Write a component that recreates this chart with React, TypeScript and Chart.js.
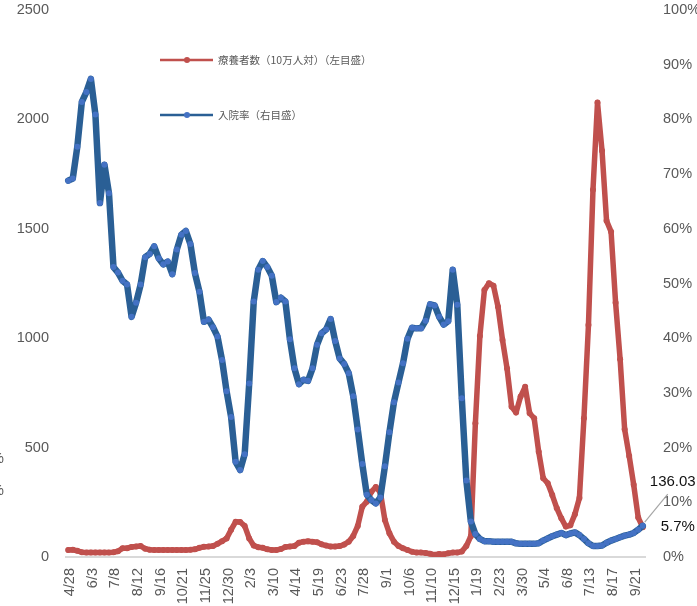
import React, { useEffect, useRef } from 'react';
import { Chart, registerables } from 'chart.js';

Chart.register(...registerables);

// Weekly dates (2020/4/28 – 2022/10/5)
const dates: string[] = [
  '4/28','5/6','5/13','5/20','5/27',
  '6/3','6/10','6/17','6/24','7/1',
  '7/8','7/15','7/22','7/29','8/5',
  '8/12','8/19','8/26','9/2','9/9',
  '9/16','9/23','9/30','10/7','10/14',
  '10/21','10/28','11/4','11/11','11/18',
  '11/25','12/2','12/9','12/16','12/23',
  '12/30','1/6','1/13','1/20','1/27',
  '2/3','2/10','2/17','2/24','3/3',
  '3/10','3/17','3/24','3/31','4/7',
  '4/14','4/21','4/28','5/5','5/12',
  '5/19','5/26','6/2','6/9','6/16',
  '6/23','6/30','7/7','7/14','7/21',
  '7/28','8/4','8/11','8/18','8/25',
  '9/1','9/8','9/15','9/22','9/29',
  '10/6','10/13','10/20','10/27','11/3',
  '11/10','11/17','11/24','12/1','12/8',
  '12/15','12/22','12/29','1/5','1/12',
  '1/19','1/26','2/2','2/9','2/16',
  '2/23','3/2','3/9','3/16','3/23',
  '3/30','4/6','4/13','4/20','4/27',
  '5/4','5/11','5/18','5/25','6/1',
  '6/8','6/15','6/22','6/29','7/6',
  '7/13','7/20','7/27','8/3','8/10',
  '8/17','8/24','8/31','9/7','9/14',
  '9/21','9/28','10/5',
];

// 療養者数（10万人対） – left axis
const ryoyoValues: number[] = [
  32, 33, 28, 22, 20, 20, 20, 20, 20, 20,
  22, 26, 40, 40, 46, 48, 50, 38, 33, 32,
  32, 32, 32, 32, 32, 32, 32, 33, 35, 42,
  47, 48, 50, 60, 72, 85, 125, 161, 160, 142,
  85, 52, 45, 42, 35, 32, 32, 36, 46, 48,
  50, 65, 70, 72, 70, 67, 58, 52, 48, 48,
  50, 57, 70, 96, 142, 230, 253, 298, 320, 295,
  169, 108, 70, 50, 40, 32, 24, 20, 20, 18,
  15, 10, 14, 12, 17, 20, 20, 25, 50, 95,
  611, 1010, 1220, 1251, 1240, 1144, 992, 862, 687, 660,
  733, 778, 657, 634, 481, 360, 337, 283, 223, 177,
  139, 145, 195, 270, 634, 1060, 1678, 2077, 1857, 1537,
  1487, 1162, 904, 584, 462, 330, 180, 136.03,
];

// 入院率 (%) – right axis
const nyuinRate: number[] = [
  68.8, 69.2, 75.0, 83.2, 85.0, 87.4, 80.9, 64.7, 71.7, 66.5,
  53.0, 52.0, 50.5, 49.8, 43.9, 46.5, 49.8, 54.8, 55.4, 56.8,
  54.6, 53.5, 54.0, 51.7, 56.2, 58.9, 59.6, 57.2, 51.9, 48.5,
  43.0, 43.4, 42.0, 40.3, 36.0, 30.3, 25.6, 17.4, 15.9, 18.8,
  31.7, 46.7, 52.5, 54.1, 53.0, 51.4, 46.6, 47.4, 46.7, 39.8,
  34.5, 31.6, 32.4, 32.2, 34.5, 38.8, 40.9, 41.6, 43.5, 39.5,
  36.3, 35.3, 33.6, 29.4, 23.3, 17.0, 11.4, 10.4, 9.8, 10.9,
  16.6, 22.8, 28.3, 31.9, 35.4, 39.9, 41.9, 41.8, 41.8, 43.2,
  46.2, 46.0, 43.9, 42.5, 43.1, 52.5, 46.1, 29.0, 14.0, 6.5,
  4.2, 3.3, 2.9, 2.9, 2.8, 2.8, 2.8, 2.8, 2.8, 2.5,
  2.4, 2.4, 2.4, 2.4, 2.5, 3.0, 3.4, 3.8, 4.1, 4.4,
  4.0, 4.3, 4.5, 4.0, 3.3, 2.5, 2.0, 2.0, 2.1, 2.6,
  3.0, 3.3, 3.6, 3.9, 4.1, 4.4, 5.0, 5.7,
];

const seriesNames = ['療養者数（10万人対）（左目盛）', '入院率（右目盛）'];
const lastLabels = ['136.03', '5.7%'];

const RED = '#C0504D';
const BLUE_LINE = '#2A5F95';
const BLUE_MARK = '#4472C4';
const GRAY_TEXT = '#595959';
const FONT = "'Liberation Sans', Arial, sans-serif";
const CJK = "'Noto Sans CJK JP', 'Noto Sans CJK SC', sans-serif";

const W = 697;
const H = 606;

export default function App() {
  const ref = useRef<HTMLCanvasElement | null>(null);

  useEffect(() => {
    const canvas = ref.current;
    if (!canvas) return;

    const legendPlugin = {
      id: 'customLegend',
      afterDraw(chart: any) {
        const ctx = chart.ctx;
        ctx.save();
        const items = [
          { y: 60, color: RED, mark: RED, text: seriesNames[0] },
          { y: 115, color: BLUE_LINE, mark: BLUE_MARK, text: seriesNames[1] },
        ];
        items.forEach((it) => {
          ctx.strokeStyle = it.color;
          ctx.lineWidth = 2.5;
          ctx.beginPath();
          ctx.moveTo(160, it.y);
          ctx.lineTo(213, it.y);
          ctx.stroke();
          ctx.fillStyle = it.mark;
          ctx.beginPath();
          ctx.arc(187, it.y, 3, 0, Math.PI * 2);
          ctx.fill();
          ctx.fillStyle = GRAY_TEXT;
          ctx.font = `10.5px ${CJK}`;
          ctx.textAlign = 'left';
          ctx.textBaseline = 'middle';
          ctx.fillText(it.text, 218, it.y);
        });
        // fragments of neighbouring chart at the left edge
        ctx.font = `14.5px ${FONT}`;
        ctx.fillStyle = GRAY_TEXT;
        ctx.fillText('%', -9, 459);
        ctx.fillText('%', -9, 491);
        ctx.restore();
      },
    };

    const lastLabelPlugin = {
      id: 'lastLabels',
      afterDatasetsDraw(chart: any) {
        const ctx = chart.ctx;
        const metaRed = chart.getDatasetMeta(1);
        const metaBlue = chart.getDatasetMeta(0);
        const pr = metaRed.data[metaRed.data.length - 1];
        const pb = metaBlue.data[metaBlue.data.length - 1];
        if (!pr || !pb) return;
        ctx.save();
        ctx.strokeStyle = '#A6A6A6';
        ctx.lineWidth = 1.2;
        ctx.beginPath();
        ctx.moveTo(pr.x + 2, pr.y - 5);
        ctx.lineTo(pr.x + 25, pr.y - 33);
        ctx.stroke();
        ctx.fillStyle = '#111111';
        ctx.font = `15px ${FONT}`;
        ctx.textBaseline = 'middle';
        ctx.textAlign = 'center';
        ctx.fillText(lastLabels[0], pr.x + 30, pr.y - 45);
        ctx.textAlign = 'left';
        ctx.fillText(lastLabels[1], pb.x + 18, pb.y + 1);
        ctx.restore();
      },
    };

    const noVertPad = (s: any) => {
      s.paddingTop = 0;
      s.paddingBottom = 0;
    };

    const chart = new Chart(canvas, {
      type: 'line',
      data: {
        labels: dates,
        datasets: [
          {
            label: seriesNames[1],
            data: nyuinRate,
            yAxisID: 'y1',
            borderColor: BLUE_LINE,
            backgroundColor: BLUE_MARK,
            borderWidth: 6.5,
            borderJoinStyle: 'round',
            borderCapStyle: 'round',
            pointRadius: 3,
            pointBorderWidth: 0,
            pointBackgroundColor: BLUE_MARK,
            tension: 0,
          },
          {
            label: seriesNames[0],
            data: ryoyoValues,
            yAxisID: 'y',
            borderColor: RED,
            backgroundColor: RED,
            borderWidth: 5.5,
            borderJoinStyle: 'round',
            borderCapStyle: 'round',
            pointRadius: 3,
            pointBorderWidth: 0,
            pointBackgroundColor: RED,
            tension: 0,
          },
        ],
      },
      options: {
        responsive: false,
        animation: false,
        devicePixelRatio: 1,
        layout: { padding: { top: 10, left: 0, right: 0, bottom: 0 } },
        plugins: {
          legend: { display: false },
          tooltip: { enabled: false },
          title: { display: false },
        },
        scales: {
          x: {
            type: 'category',
            offset: true,
            grid: { display: false, drawTicks: false },
            border: { display: true, color: '#D9D9D9', width: 2 },
            ticks: {
              autoSkip: false,
              minRotation: 90,
              maxRotation: 90,
              padding: 11,
              labelOffset: 2,
              color: GRAY_TEXT,
              font: { family: FONT, size: 14.5 },
              callback: (_v: any, i: number) => (i % 5 === 0 ? dates[i] : null),
            },
            afterFit: (s: any) => {
              s.height = H - 557;
            },
          },
          y: {
            position: 'left',
            min: 0,
            max: 2500,
            grid: { display: false, drawTicks: false },
            border: { display: false },
            ticks: {
              stepSize: 500,
              padding: 17,
              color: GRAY_TEXT,
              font: { family: FONT, size: 14.5 },
              callback: (v: any) => String(v),
            },
            afterFit: (s: any) => {
              s.width = 66;
              noVertPad(s);
            },
          },
          y1: {
            position: 'right',
            min: 0,
            max: 100,
            grid: { display: false, drawTicks: false },
            border: { display: false },
            ticks: {
              stepSize: 10,
              padding: 18,
              color: GRAY_TEXT,
              font: { family: FONT, size: 14.5 },
              callback: (v: any) => `${v}%`,
            },
            afterFit: (s: any) => {
              s.width = W - 645;
              noVertPad(s);
            },
          },
        },
      },
      plugins: [legendPlugin, lastLabelPlugin],
    } as any);

    return () => {
      chart.destroy();
    };
  }, []);

  return (
    <div
      style={{
        position: 'fixed',
        left: 0,
        top: 0,
        width: W,
        height: H,
        overflow: 'hidden',
        background: '#ffffff',
      }}
    >
      <canvas ref={ref} width={W} height={H} style={{ width: W, height: H, display: 'block' }} />
    </div>
  );
}
